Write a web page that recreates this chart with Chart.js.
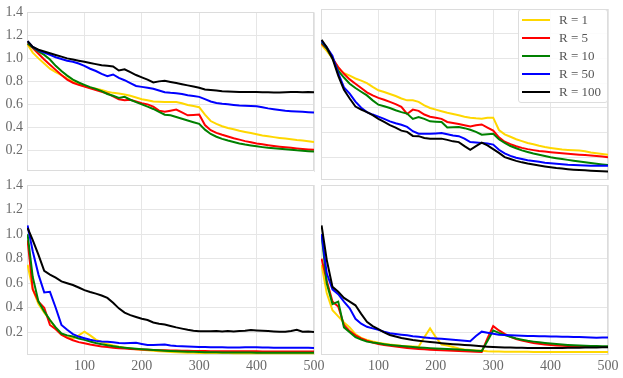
<!DOCTYPE html>
<html><head><meta charset="utf-8">
<script src="https://cdn.jsdelivr.net/npm/chart.js@4.4.1/dist/chart.umd.min.js"></script>
<style>
html,body{margin:0;padding:0;background:#fff;}
#wrap{position:relative;width:623px;height:378px;overflow:hidden;background:#fff;}
#wrap canvas{position:absolute;}
.legend{position:absolute;left:518px;top:9px;width:90px;height:94px;box-sizing:border-box;border:1px solid #dddddd;border-radius:3px;background:rgba(255,255,255,0.85);font-family:"Liberation Serif",serif;font-size:13px;color:#555;}
.row{position:absolute;left:0;height:18px;width:88px;}
.row .ln{position:absolute;left:3px;top:8px;width:28px;height:2px;}
.row .tx{position:absolute;left:40px;top:0;line-height:18px;white-space:nowrap;}
</style>
</head><body>
<div id="wrap">
<canvas id="tl" width="330" height="184" style="left:0;top:0"></canvas>
<canvas id="tr" width="307" height="184" style="left:316px;top:0"></canvas>
<canvas id="bl" width="330" height="208" style="left:0;top:170px"></canvas>
<canvas id="br" width="307" height="208" style="left:316px;top:170px"></canvas>
<div class="legend" id="legend"></div>
</div>
<script>
const xValues = [1,10,20,30,40,50,60,70,80,90,100,110,120,130,140,150,160,170,180,190,200,210,220,230,240,250,260,270,280,290,300,310,320,330,340,350,360,370,380,390,400,410,420,430,440,450,460,470,480,490,500];
const xTicks = [100,200,300,400,500];
const yTicks = [0.2,0.4,0.6,0.8,1.0,1.2,1.4];
const seriesLabels = ["R = 1","R = 5","R = 10","R = 50","R = 100"];
const seriesColors = ["#ffd700","#ff0000","#008000","#0000ff","#000000"];

// top-left panel
const tlR1 = [1.12,1.05,1.0,0.955,0.91,0.88,0.855,0.825,0.795,0.775,0.76,0.745,0.735,0.725,0.71,0.70,0.695,0.685,0.675,0.66,0.645,0.635,0.625,0.622,0.62,0.62,0.62,0.61,0.595,0.585,0.575,0.51,0.455,0.43,0.41,0.395,0.383,0.37,0.36,0.35,0.34,0.33,0.322,0.315,0.308,0.302,0.297,0.29,0.285,0.28,0.273];
const tlR5 = [1.13,1.09,1.04,0.99,0.945,0.9,0.855,0.815,0.788,0.77,0.755,0.74,0.725,0.71,0.695,0.67,0.645,0.635,0.64,0.625,0.61,0.60,0.58,0.545,0.535,0.545,0.555,0.53,0.505,0.508,0.512,0.42,0.375,0.352,0.335,0.32,0.305,0.293,0.28,0.27,0.26,0.252,0.245,0.238,0.232,0.227,0.222,0.217,0.212,0.208,0.204];
const tlR10 = [1.13,1.095,1.06,1.03,0.99,0.935,0.89,0.85,0.815,0.79,0.77,0.75,0.735,0.715,0.69,0.675,0.655,0.665,0.64,0.62,0.60,0.58,0.56,0.535,0.51,0.505,0.49,0.475,0.46,0.445,0.43,0.38,0.342,0.318,0.3,0.285,0.272,0.26,0.25,0.242,0.235,0.228,0.222,0.218,0.213,0.209,0.205,0.2,0.197,0.193,0.19];
const tlR50 = [1.15,1.10,1.07,1.05,1.03,1.01,0.995,0.98,0.97,0.955,0.935,0.91,0.89,0.865,0.845,0.86,0.83,0.81,0.785,0.76,0.752,0.745,0.735,0.72,0.705,0.70,0.697,0.69,0.68,0.673,0.665,0.645,0.625,0.612,0.605,0.60,0.595,0.59,0.587,0.585,0.583,0.575,0.565,0.557,0.55,0.544,0.54,0.537,0.535,0.532,0.53];
const tlR100 = [1.15,1.10,1.075,1.06,1.045,1.03,1.015,1.0,0.99,0.98,0.97,0.96,0.95,0.94,0.935,0.93,0.895,0.905,0.88,0.855,0.835,0.815,0.79,0.80,0.805,0.795,0.785,0.775,0.765,0.755,0.745,0.73,0.725,0.72,0.715,0.712,0.71,0.708,0.707,0.707,0.707,0.706,0.706,0.704,0.704,0.706,0.708,0.708,0.706,0.707,0.706];

// top-right panel
const trR1 = [1.11,1.06,1.0,0.92,0.88,0.86,0.837,0.82,0.80,0.77,0.742,0.728,0.712,0.695,0.675,0.66,0.66,0.648,0.62,0.598,0.585,0.572,0.56,0.55,0.54,0.528,0.52,0.515,0.512,0.52,0.52,0.42,0.385,0.365,0.345,0.33,0.315,0.305,0.293,0.283,0.275,0.268,0.262,0.258,0.255,0.253,0.248,0.238,0.232,0.226,0.22];
const trR5 = [1.12,1.08,1.0,0.93,0.875,0.83,0.795,0.76,0.725,0.70,0.68,0.665,0.648,0.63,0.607,0.55,0.585,0.575,0.545,0.528,0.52,0.51,0.485,0.477,0.468,0.458,0.448,0.458,0.465,0.44,0.415,0.36,0.325,0.305,0.288,0.275,0.265,0.257,0.25,0.245,0.24,0.236,0.232,0.228,0.224,0.22,0.217,0.213,0.21,0.205,0.2];
const trR10 = [1.13,1.08,1.0,0.9,0.845,0.795,0.76,0.73,0.70,0.66,0.625,0.612,0.598,0.58,0.565,0.553,0.51,0.525,0.51,0.49,0.487,0.485,0.44,0.442,0.444,0.435,0.422,0.405,0.382,0.386,0.39,0.345,0.315,0.29,0.272,0.255,0.242,0.23,0.22,0.21,0.2,0.192,0.185,0.178,0.171,0.165,0.158,0.152,0.146,0.141,0.137];
const trR50 = [1.14,1.09,1.02,0.88,0.765,0.715,0.65,0.60,0.565,0.545,0.528,0.51,0.49,0.475,0.462,0.445,0.41,0.39,0.39,0.39,0.392,0.395,0.385,0.376,0.37,0.35,0.322,0.318,0.314,0.31,0.302,0.26,0.23,0.21,0.195,0.185,0.175,0.168,0.162,0.155,0.15,0.146,0.142,0.138,0.136,0.134,0.132,0.131,0.13,0.13,0.13];
const trR100 = [1.15,1.09,1.0,0.86,0.745,0.675,0.61,0.585,0.565,0.54,0.51,0.485,0.46,0.44,0.415,0.405,0.372,0.37,0.355,0.35,0.35,0.35,0.34,0.328,0.322,0.29,0.26,0.29,0.318,0.295,0.265,0.235,0.2,0.185,0.17,0.158,0.148,0.14,0.132,0.125,0.118,0.112,0.108,0.103,0.099,0.096,0.093,0.09,0.088,0.086,0.084];

// bottom-left panel
const blR1 = [0.75,0.55,0.43,0.36,0.3,0.23,0.18,0.16,0.15,0.175,0.205,0.175,0.14,0.12,0.105,0.093,0.083,0.075,0.068,0.062,0.057,0.053,0.049,0.046,0.043,0.04,0.038,0.036,0.034,0.033,0.032,0.032,0.031,0.031,0.031,0.031,0.03,0.03,0.03,0.03,0.03,0.03,0.03,0.03,0.03,0.03,0.03,0.03,0.03,0.03,0.03];
const blR5 = [0.95,0.55,0.45,0.40,0.26,0.225,0.18,0.155,0.135,0.12,0.11,0.1,0.092,0.085,0.08,0.075,0.07,0.067,0.064,0.061,0.059,0.057,0.055,0.054,0.053,0.052,0.051,0.05,0.049,0.048,0.047,0.047,0.046,0.046,0.046,0.045,0.045,0.045,0.045,0.045,0.045,0.044,0.044,0.044,0.044,0.044,0.044,0.044,0.044,0.044,0.044];
const blR10 = [1.0,0.65,0.45,0.37,0.30,0.24,0.19,0.175,0.165,0.15,0.138,0.125,0.113,0.103,0.094,0.087,0.08,0.075,0.07,0.066,0.062,0.059,0.056,0.053,0.05,0.048,0.046,0.044,0.042,0.041,0.039,0.038,0.037,0.037,0.036,0.036,0.035,0.035,0.035,0.035,0.034,0.034,0.034,0.034,0.034,0.034,0.033,0.033,0.033,0.033,0.033];
const blR50 = [1.07,0.86,0.67,0.525,0.53,0.40,0.26,0.22,0.185,0.165,0.152,0.14,0.13,0.125,0.122,0.118,0.112,0.11,0.112,0.114,0.105,0.097,0.097,0.098,0.1,0.092,0.088,0.086,0.084,0.082,0.081,0.08,0.079,0.078,0.078,0.077,0.077,0.077,0.078,0.079,0.078,0.077,0.076,0.075,0.075,0.074,0.074,0.074,0.074,0.074,0.073];
const blR100 = [1.05,0.95,0.83,0.70,0.67,0.645,0.615,0.60,0.585,0.565,0.543,0.528,0.515,0.50,0.48,0.44,0.395,0.36,0.34,0.325,0.31,0.3,0.28,0.27,0.264,0.252,0.24,0.23,0.22,0.213,0.208,0.208,0.208,0.21,0.207,0.21,0.207,0.21,0.212,0.218,0.215,0.212,0.21,0.207,0.205,0.205,0.21,0.22,0.205,0.207,0.203];

// bottom-right panel
const brR1 = [0.75,0.52,0.38,0.33,0.28,0.24,0.185,0.155,0.138,0.125,0.115,0.107,0.1,0.095,0.09,0.087,0.085,0.083,0.16,0.232,0.16,0.1,0.092,0.08,0.068,0.06,0.055,0.052,0.05,0.046,0.044,0.043,0.042,0.042,0.041,0.041,0.041,0.04,0.04,0.04,0.04,0.04,0.04,0.04,0.04,0.04,0.04,0.04,0.04,0.04,0.04];
const brR5 = [0.8,0.62,0.45,0.41,0.26,0.21,0.175,0.15,0.132,0.117,0.105,0.097,0.09,0.084,0.078,0.073,0.068,0.064,0.061,0.058,0.056,0.054,0.052,0.05,0.048,0.046,0.044,0.042,0.04,0.15,0.25,0.215,0.187,0.163,0.145,0.132,0.122,0.113,0.106,0.1,0.096,0.093,0.09,0.088,0.086,0.085,0.084,0.083,0.082,0.081,0.08];
const brR10 = [1.0,0.6,0.43,0.45,0.24,0.2,0.16,0.14,0.124,0.116,0.11,0.103,0.097,0.092,0.088,0.084,0.08,0.077,0.074,0.071,0.068,0.065,0.063,0.061,0.059,0.056,0.053,0.05,0.047,0.13,0.215,0.195,0.178,0.163,0.15,0.14,0.131,0.124,0.118,0.113,0.108,0.104,0.1,0.097,0.095,0.093,0.091,0.089,0.088,0.087,0.086];
const brR50 = [1.0,0.68,0.55,0.51,0.45,0.395,0.31,0.27,0.245,0.232,0.22,0.205,0.192,0.186,0.18,0.175,0.168,0.163,0.158,0.153,0.15,0.147,0.143,0.14,0.136,0.132,0.128,0.17,0.205,0.196,0.188,0.18,0.177,0.175,0.173,0.171,0.17,0.169,0.168,0.167,0.166,0.165,0.164,0.163,0.162,0.161,0.16,0.158,0.155,0.158,0.157];
const brR100 = [1.07,0.79,0.57,0.53,0.48,0.45,0.42,0.35,0.285,0.25,0.225,0.2,0.178,0.165,0.153,0.146,0.138,0.132,0.126,0.121,0.116,0.111,0.107,0.103,0.1,0.097,0.094,0.091,0.087,0.083,0.08,0.078,0.077,0.076,0.075,0.074,0.073,0.072,0.072,0.072,0.072,0.073,0.073,0.074,0.075,0.075,0.076,0.077,0.077,0.078,0.078];

const gridColor = "#e6e6e6";
const frameColor = "#dcdcdc";
const tickColor = "#6a6a6a";
const tickFont = {family: "'Liberation Serif', serif", size: 14};

const framePlugin = {
  id: 'frame',
  beforeDatasetsDraw(chart) {
    const a = chart.chartArea, ctx = chart.ctx;
    ctx.save();
    ctx.strokeStyle = frameColor;
    ctx.lineWidth = 1;
    ctx.strokeRect(Math.round(a.left) + 0.5, Math.round(a.top) + 0.5, Math.round(a.right - a.left) - 1, Math.round(a.bottom - a.top) - 1);
    ctx.restore();
  }
};

function makeChart(id, series, o) {
  return new Chart(document.getElementById(id), {
    type: 'line',
    data: {
      datasets: series.map((s, i) => ({
        label: seriesLabels[i],
        data: xValues.map((x, j) => ({x: x, y: s[j]})),
        borderColor: seriesColors[i],
        backgroundColor: seriesColors[i],
        borderWidth: 2,
        pointRadius: 0,
        tension: 0,
        fill: false,
        order: 4 - i
      }))
    },
    options: {
      responsive: false,
      animation: false,
      devicePixelRatio: 1,
      layout: {padding: o.padding, autoPadding: false},
      plugins: {legend: {display: false}, tooltip: {enabled: false}},
      scales: {
        x: {
          type: 'linear', min: 0, max: 500,
          afterBuildTicks: s => { s.ticks = xTicks.map(v => ({value: v})); },
          afterFit: s => { s.height = o.xh; },
          grid: {color: gridColor, lineWidth: 1, drawTicks: false},
          border: {display: false},
          ticks: {display: o.showX, padding: 3, color: tickColor, font: tickFont, maxRotation: 0, autoSkip: false, callback: v => String(v)}
        },
        y: {
          type: 'linear', min: 0.015, max: 1.4,
          afterBuildTicks: s => { s.ticks = yTicks.map(v => ({value: v})); },
          afterFit: s => { s.width = o.yw; },
          grid: {color: gridColor, lineWidth: 1, drawTicks: false},
          border: {display: false},
          ticks: {display: o.showY, padding: 4, color: tickColor, font: tickFont, callback: v => v.toFixed(1)}
        }
      }
    },
    plugins: [framePlugin]
  });
}

makeChart('tl', [tlR1, tlR5, tlR10, tlR50, tlR100], {padding: {left: 0, top: 9, right: 16, bottom: 0}, yw: 27, xh: 4, showX: false, showY: true});
makeChart('tr', [trR1, trR5, trR10, trR50, trR100], {padding: {left: 0, top: 9, right: 15, bottom: 0}, yw: 5, xh: 4, showX: false, showY: false});
makeChart('bl', [blR1, blR5, blR10, blR50, blR100], {padding: {left: 0, top: 15, right: 16, bottom: 0}, yw: 27, xh: 23, showX: true, showY: true});
makeChart('br', [brR1, brR5, brR10, brR50, brR100], {padding: {left: 0, top: 15, right: 15, bottom: 0}, yw: 5, xh: 23, showX: true, showY: false});

const legend = document.getElementById('legend');
seriesLabels.forEach((lab, i) => {
  const row = document.createElement('div');
  row.className = 'row';
  row.style.top = (1 + i * 18) + 'px';
  const ln = document.createElement('div');
  ln.className = 'ln';
  ln.style.background = seriesColors[i];
  const tx = document.createElement('div');
  tx.className = 'tx';
  tx.textContent = lab;
  row.appendChild(ln); row.appendChild(tx);
  legend.appendChild(row);
});
</script>
</body></html>
